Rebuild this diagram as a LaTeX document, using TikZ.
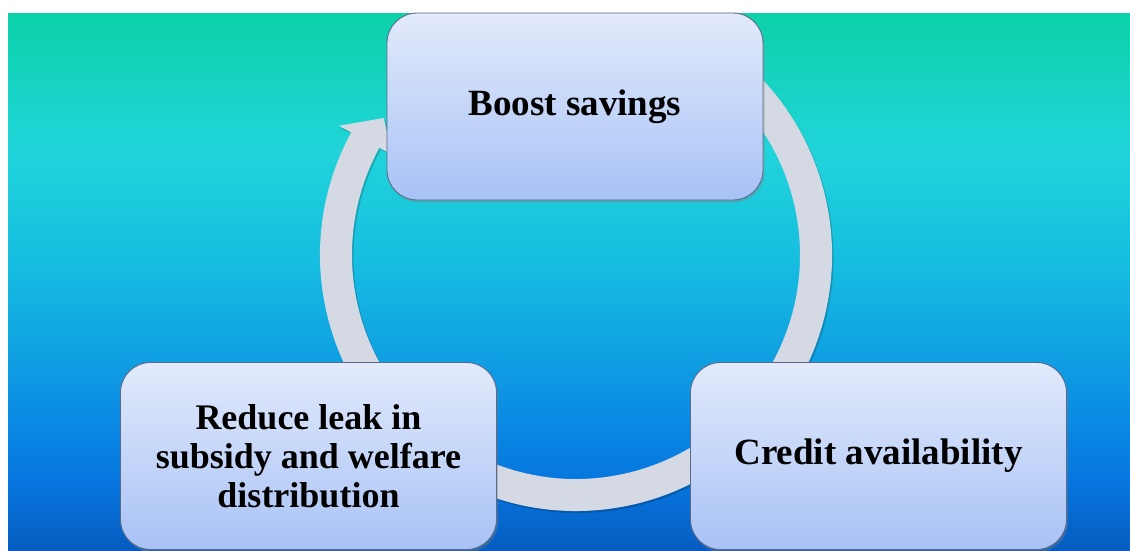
\documentclass[tikz,border=0pt]{standalone}
\usepackage{fontspec}
\setmainfont{Liberation Serif}
\usetikzlibrary{shadows}

% background gradient colours, top to bottom
\definecolor{bgA}{RGB}{12,210,170}
\definecolor{bgB}{RGB}{32,212,218}
\definecolor{bgC}{RGB}{22,190,224}
\definecolor{bgD}{RGB}{16,162,226}
\definecolor{bgE}{RGB}{10,138,228}
\definecolor{bgF}{RGB}{6,118,222}
\definecolor{bgG}{RGB}{6,92,192}
% boxes and ring
\definecolor{boxtop}{RGB}{226,234,251}
\definecolor{boxbot}{RGB}{168,194,246}
\definecolor{boxline}{RGB}{92,106,136}
\definecolor{ringcol}{RGB}{212,217,228}

\pgfdeclareverticalshading{bgshade}{100bp}{%
  color(0bp)=(bgG); color(25bp)=(bgG); color(31.5bp)=(bgF);
  color(37.1bp)=(bgE); color(43.7bp)=(bgD); color(52bp)=(bgC);
  color(62.3bp)=(bgB); color(75bp)=(bgA); color(100bp)=(bgA)}

\tikzset{
  stage/.style={rounded corners=30pt, minimum width=376pt, minimum height=187pt,
    draw=boxline, line width=0.9pt, top color=boxtop, bottom color=boxbot,
    align=center, inner sep=0pt, text=black,
    drop shadow={opacity=0.35, shadow xshift=1.5pt, shadow yshift=-2.5pt},
    font=\fontsize{37}{39}\selectfont\bfseries},
}

\begin{document}
\begin{tikzpicture}[x=1pt,y=1pt]
  % page and gradient backdrop
  \fill[white] (0,0) rectangle (1130,550);
  \useasboundingbox (0,0) rectangle (1130,550);
  \shade[shading=bgshade] (8,0) rectangle (1130,536);

  % circular arrow running clockwise, head pointing at the top stage
  \begin{scope}[shift={(576,295)}]
    \fill[black, opacity=0.18, shift={(1.5,-2)}]
      (60:256) arc[start angle=60, end angle=-208.6, radius=256]
      -- (151.4:270) -- (144.5:236) -- (151.4:210) -- (151.4:224)
      arc[start angle=-208.6, end angle=60, radius=224] -- cycle;
    \fill[ringcol]
      (60:256) arc[start angle=60, end angle=-208.6, radius=256]
      -- (151.4:270) -- (144.5:236) -- (151.4:210) -- (151.4:224)
      arc[start angle=-208.6, end angle=60, radius=224] -- cycle;
  \end{scope}

  % the three stages
  \node[stage] (boost)  at (575,443.5) {Boost savings};
  \node[stage] (credit) at (878.5,94) {Credit availability};
  \node[stage, font=\fontsize{36}{39}\selectfont\bfseries] (reduce) at (308.5,94)
    {Reduce leak in\\subsidy and welfare\\distribution};
\end{tikzpicture}
\end{document}
